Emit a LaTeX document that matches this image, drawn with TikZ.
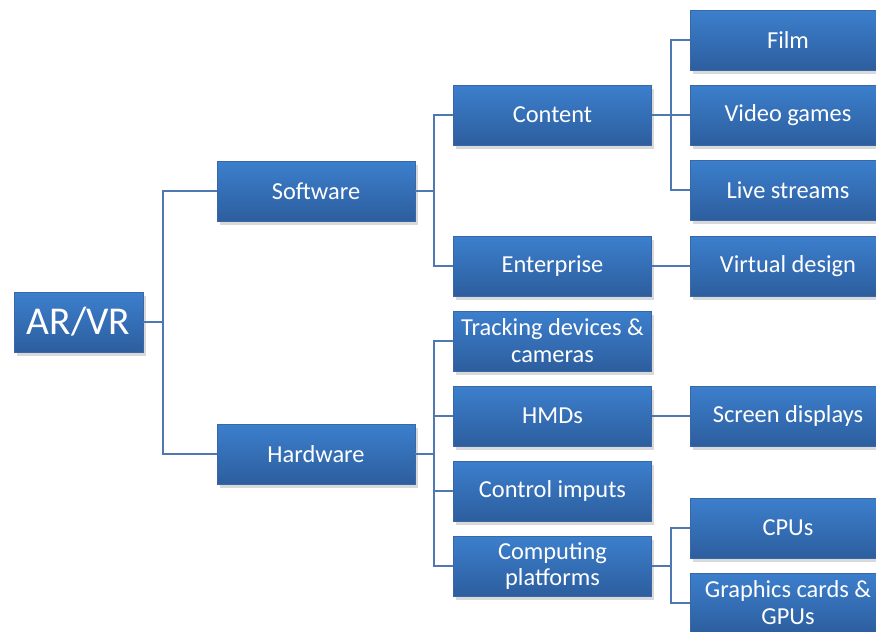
\documentclass[tikz,border=0pt]{standalone}
\usepackage{fontspec}
\setmainfont{Carlito}
\usetikzlibrary{shadows}
\definecolor{boxtop}{RGB}{60,127,205}
\definecolor{boxbot}{RGB}{45,94,158}
\definecolor{boxedge}{RGB}{58,103,165}
\definecolor{linkblue}{RGB}{79,120,178}
\tikzset{
  box/.style={draw=boxedge, line width=0.4pt, top color=boxtop, bottom color=boxbot,
    text=white, minimum height=45pt, inner sep=0pt, align=center,
    font=\fontsize{18.3}{20.2}\selectfont,
    drop shadow={opacity=0.3, shadow xshift=2pt, shadow yshift=-3pt}},
  rootbox/.style={box, minimum width=96.75pt, font=\fontsize{29.6}{32}\selectfont},
  midbox/.style={box, minimum width=148.5pt},
  leafbox/.style={box, minimum width=147pt},
  link/.style={linkblue, line width=1.5pt}
}

\begin{document}
\begin{tikzpicture}[x=0.75pt, y=-0.75pt]
  \useasboundingbox (0,0) rectangle (876,632);
  % level 0 and 1
  \node[rootbox] (arvr) at (78.5,322) {AR/VR};
  \node[midbox] (soft) at (316,191) {Software};
  \node[midbox] (hard) at (316,454) {Hardware};
  % level 2
  \node[midbox] (content) at (552.5,115) {Content};
  \node[midbox] (enterp) at (552.5,266) {Enterprise};
  \node[midbox] (track) at (552.5,341) {Tracking devices \&\\cameras};
  \node[midbox] (hmd) at (552.5,416) {HMDs};
  \node[midbox] (ctrl) at (552.5,491) {Control imputs};
  \node[midbox] (comp) at (552.5,566) {Computing\\platforms};
  % level 3
  \node[leafbox] (film) at (788,40) {Film};
  \node[leafbox] (games) at (788,115) {Video games};
  \node[leafbox] (live) at (788,190) {Live streams};
  \node[leafbox] (virt) at (788,266) {Virtual design};
  \node[leafbox] (screen) at (788,416) {Screen displays};
  \node[leafbox] (cpu) at (788,528) {CPUs};
  \node[leafbox] (gpu) at (788,603) {Graphics cards \&\\GPUs};
  % connectors
  \foreach \kid in {soft,hard}
    \draw[link] (arvr.east) -- ++(20,0) |- (\kid.west);
  \foreach \kid in {content,enterp}
    \draw[link] (soft.east) -- ++(19,0) |- (\kid.west);
  \foreach \kid in {track,hmd,ctrl,comp}
    \draw[link] (hard.east) -- ++(19,0) |- (\kid.west);
  \foreach \kid in {film,games,live}
    \draw[link] (content.east) -- ++(19,0) |- (\kid.west);
  \foreach \kid in {cpu,gpu}
    \draw[link] (comp.east) -- ++(19,0) |- (\kid.west);
  \draw[link] (enterp.east) -- (virt.west);
  \draw[link] (hmd.east) -- (screen.west);
\end{tikzpicture}
\end{document}
